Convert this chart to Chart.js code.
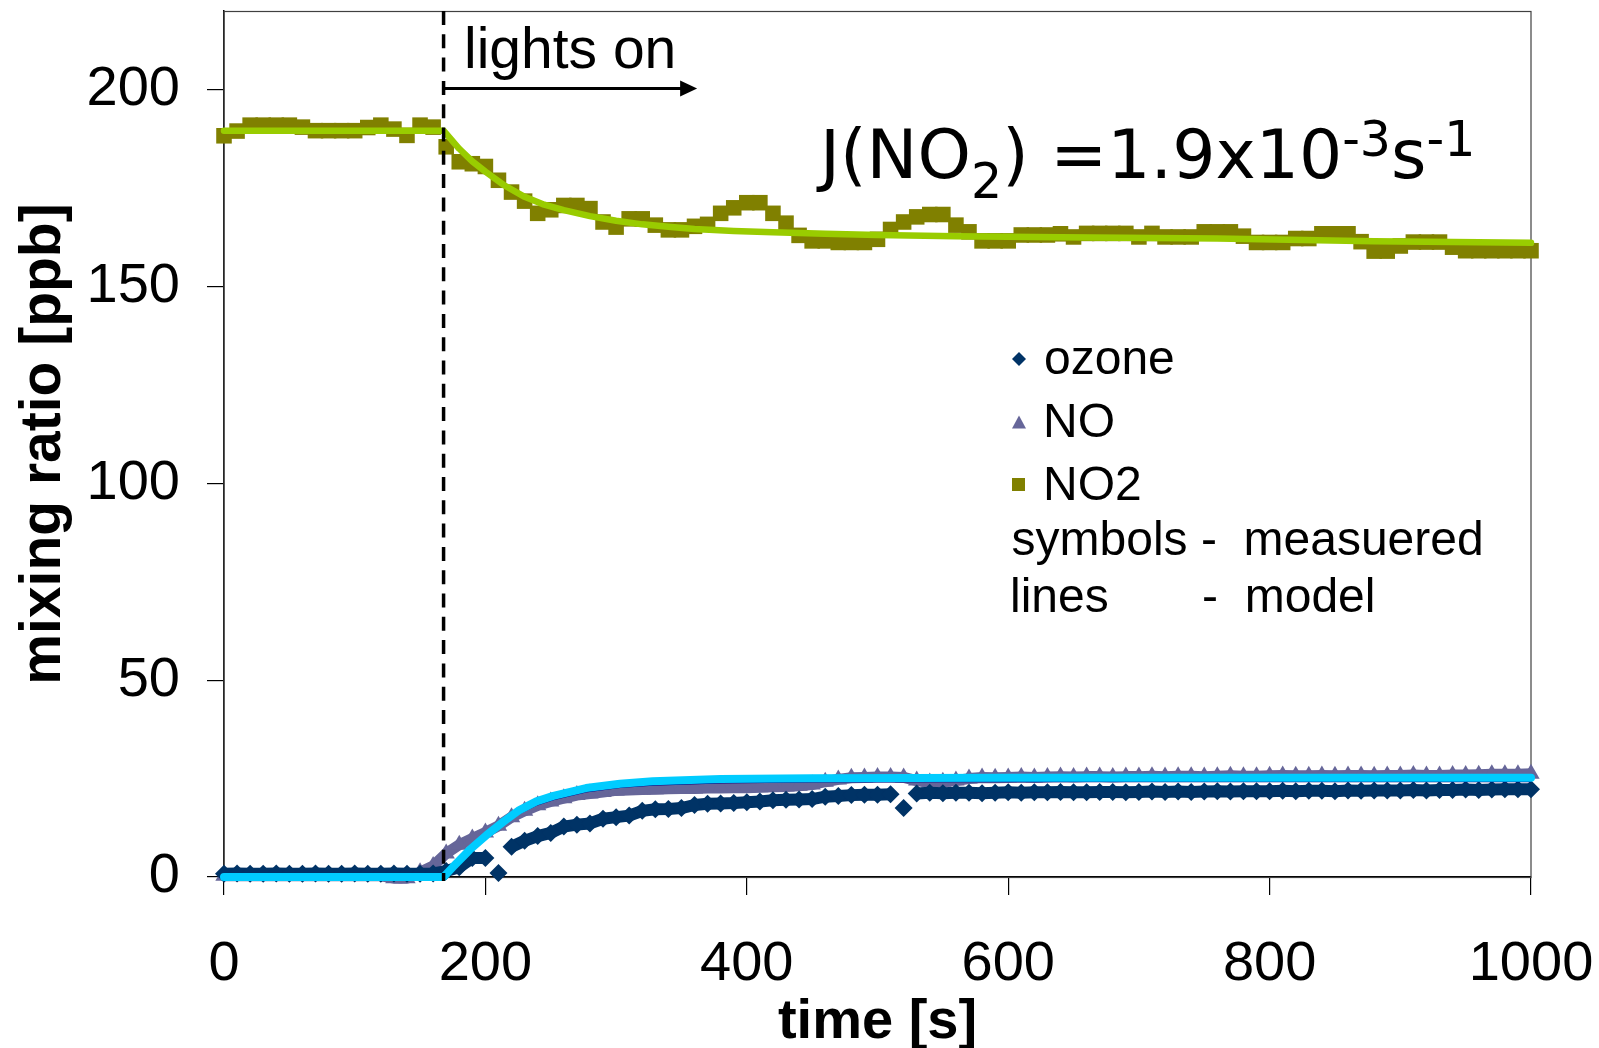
<!DOCTYPE html>
<html><head><meta charset="utf-8">
<script src="https://cdn.jsdelivr.net/npm/chart.js@4.4.1/dist/chart.umd.min.js"></script>
<style>html,body{margin:0;padding:0;background:#fff;}#wrap{width:1599px;height:1048px;}</style>
</head><body><div id="wrap"><canvas id="c" width="1599" height="1048"></canvas></div>
<script>
// ---- data ----
const measTimes = [
  0,10,20,30,40,50,60,70,80,90,
  100,110,120,130,140,150,160,170,180,190,
  200,210,220,230,240,250,260,270,280,290,
  300,310,320,330,340,350,360,370,380,390,
  400,410,420,430,440,450,460,470,480,490,
  500,510,520,530,540,550,560,570,580,590,
  600,610,620,630,640,650,660,670,680,690,
  700,710,720,730,740,750,760,770,780,790,
  800,810,820,830,840,850,860,870,880,890,
  900,910,920,930,940,950,960,970,980,990,
  1000];
const ozoneMeas = [
  0.8,0.9,0.8,0.8,0.9,0.8,0.8,0.9,0.8,0.8,
  0.9,0.8,0.8,0.9,0.8,0.8,0.9,1.5,2.5,4.8,
  4.8,1.0,7.7,9.2,10.4,11.2,12.8,13.3,13.6,14.8,
  15.2,15.6,16.8,17.2,17.3,17.5,18.3,18.6,18.7,18.8,
  19.0,19.2,19.5,19.6,19.7,19.8,20.4,20.6,20.8,20.9,
  20.9,21.0,17.5,21.2,21.4,21.3,21.4,21.4,21.3,21.4,
  21.5,21.4,21.5,21.5,21.6,21.5,21.5,21.6,21.6,21.5,
  21.6,21.7,21.6,21.7,21.6,21.7,21.8,21.7,21.8,21.8,
  21.8,21.9,21.8,21.9,21.9,21.8,22.0,21.9,22.0,22.0,
  22.0,22.1,22.0,22.1,22.1,22.2,22.1,22.2,22.3,22.3,
  22.3];
const noMeas = [
  0.3,0.3,0.3,0.3,0.3,0.3,0.3,0.3,0.3,0.3,
  0.3,0.3,0.3,-0.3,-0.3,1.2,2.8,6.0,8.2,9.8,
  11.3,13.0,15.2,16.8,18.2,19.2,20.0,20.8,21.2,21.6,
  22.0,22.1,22.2,22.3,22.4,22.5,22.5,22.6,22.6,22.7,
  22.7,22.8,22.9,23.0,23.2,23.5,24.2,24.8,25.2,25.3,
  25.4,25.4,25.3,24.5,24.0,24.2,24.5,25.0,25.3,25.2,
  25.3,25.4,25.3,25.4,25.5,25.4,25.5,25.5,25.4,25.5,
  25.5,25.6,25.5,25.6,25.6,25.5,25.6,25.7,25.6,25.6,
  25.7,25.8,25.7,25.7,25.8,25.7,25.8,25.8,25.7,25.8,
  25.8,25.9,25.8,25.8,25.9,25.9,26.0,26.1,26.1,26.1,
  26.2];
const no2Meas = [
  188.3,189.5,191.0,191.0,191.0,191.0,190.5,189.6,189.6,189.6,
  189.6,190.4,191.0,190.0,188.4,191.0,190.5,185.5,181.7,181.2,
  180.5,177.0,174.0,171.7,168.6,169.5,170.6,170.6,169.8,166.4,
  165.1,167.2,167.2,165.6,164.4,164.4,165.3,165.8,168.6,170.0,
  171.3,171.3,168.6,166.1,163.0,161.6,161.6,161.2,161.2,161.2,
  162.0,164.5,166.4,167.7,168.3,168.3,165.6,163.9,161.6,161.6,
  161.6,163.1,163.1,163.1,163.4,162.6,163.5,163.5,163.5,163.5,
  162.6,163.5,162.6,162.6,162.6,163.9,163.9,163.9,162.8,161.2,
  161.2,161.2,162.2,162.2,163.4,163.4,163.4,161.4,159.0,159.0,
  160.3,161.3,161.3,161.3,160.0,159.1,159.1,159.1,159.1,159.1,
  159.1];
const no2ModelTimes = [0,168,180,190,200,215,230,245,260,280,300,320,340,360,390,420,460,500,560,640,760,880,1000];
const no2Model      = [189.6,189.6,185.0,181.8,179.2,175.6,172.8,170.8,169.4,167.9,166.7,165.8,165.2,164.6,164.1,163.8,163.4,163.1,162.8,162.5,162.2,161.5,161.1];
const noModelTimes  = [0,168,175,188,201,214,226,239,252,277,303,328,380,450,600,800,1000];
const noModel       = [0,0,2.5,6.9,10.7,14.1,17.0,19.2,20.6,22.6,23.7,24.3,24.9,25.1,25.2,25.2,25.2];
const ozoneModel    = [0,0,2.3,6.5,10.2,13.5,16.3,18.4,19.8,21.8,22.9,23.5,24.1,24.3,24.4,24.4,24.4];
const xTicks = [0,200,400,600,800,1000];
const yTicks = [0,50,100,150,200];
const lightsOnTime = 168;
const arrowEndTime = 362;
const arrowLevel = 200.3;

// ---- styling ----
const SANS = '"Liberation Sans", Arial, sans-serif';
const VER = '"DejaVu Sans", Verdana, sans-serif';
const C = {ozone:'#003366', no:'#666699', no2:'#808000', no2Line:'#99CC00', noLine:'#00CCFF', o3Line:'#000080'};

const pts = (xs, ys) => xs.map((t, i) => ({x: t, y: ys[i]}));
function isOutlier(arr, i) {
  if (i <= 0 || i >= arr.length - 1) return false;
  const d1 = arr[i] - arr[i-1], d2 = arr[i] - arr[i+1];
  return Math.abs(d1) > 2.5 && Math.abs(d2) > 2.5 && Math.sign(d1) === Math.sign(d2);
}

const annot = {
  id: 'annot',
  beforeDatasetsDraw(chart) {
    const {ctx, chartArea: a} = chart;
    ctx.save();
    ctx.strokeStyle = '#404040'; ctx.lineWidth = 1.2;
    ctx.strokeRect(a.left, a.top + 0.5, a.right - a.left, a.bottom - a.top);
    ctx.restore();
  },
  afterDatasetsDraw(chart) {
    const {ctx, chartArea: a, scales: {x, y}} = chart;
    ctx.save();
    const xl = x.getPixelForValue(lightsOnTime);
    ctx.strokeStyle = '#000'; ctx.lineWidth = 3.5; ctx.setLineDash([14, 9.3]);
    ctx.beginPath(); ctx.moveTo(xl, a.top); ctx.lineTo(xl, a.bottom + 4); ctx.stroke();
    ctx.setLineDash([]);
    const ay = y.getPixelForValue(arrowLevel), ax2 = x.getPixelForValue(arrowEndTime);
    ctx.lineWidth = 3;
    ctx.beginPath(); ctx.moveTo(xl, ay); ctx.lineTo(ax2 - 12, ay); ctx.stroke();
    ctx.fillStyle = '#000';
    ctx.beginPath(); ctx.moveTo(ax2, ay); ctx.lineTo(ax2 - 17, ay - 8); ctx.lineTo(ax2 - 17, ay + 8); ctx.closePath(); ctx.fill();
    ctx.restore();
  },
  afterDraw(chart) {
    const {ctx} = chart;
    ctx.save();
    ctx.fillStyle = '#000';
    ctx.textAlign = 'left'; ctx.textBaseline = 'alphabetic';
    ctx.font = '57px ' + SANS;
    ctx.fillText('lights on', 464, 68);
    // J(NO2) = 1.9x10^-3 s^-1
    const parts = [
      {t: 'J(NO', s: 68, dy: 0}, {t: '2', s: 49, dy: 20},
      {t: ') =1.9x10', s: 68, dy: 0}, {t: '-3', s: 49, dy: -22},
      {t: 's', s: 68, dy: 0}, {t: '-1', s: 49, dy: -22}];
    let px = 820;
    for (const p of parts) {
      ctx.font = p.s + 'px ' + VER;
      ctx.fillText(p.t, px, 178 + p.dy);
      px += ctx.measureText(p.t).width;
    }
    // legend
    ctx.font = '48px ' + SANS;
    ctx.fillStyle = C.ozone;
    ctx.beginPath(); ctx.moveTo(1019, 352); ctx.lineTo(1026, 359); ctx.lineTo(1019, 366); ctx.lineTo(1012, 359); ctx.closePath(); ctx.fill();
    ctx.fillStyle = C.no;
    ctx.beginPath(); ctx.moveTo(1019, 415.5); ctx.lineTo(1026, 428.5); ctx.lineTo(1012, 428.5); ctx.closePath(); ctx.fill();
    ctx.fillStyle = C.no2;
    ctx.fillRect(1012, 478, 13, 13);
    ctx.fillStyle = '#000';
    ctx.fillText('ozone', 1044, 374);
    ctx.fillText('NO', 1043, 437);
    ctx.fillText('NO2', 1043, 500);
    ctx.fillText('symbols -  measuered', 1011.5, 555);
    ctx.fillText('lines       -  model', 1010, 612);
    ctx.restore();
  }
};

new Chart(document.getElementById('c'), {
  type: 'scatter',
  data: {
    datasets: [
      {label: 'NO2', data: pts(measTimes, no2Meas), showLine: false, pointStyle: 'rect', pointRadius: 11,
       backgroundColor: C.no2, borderColor: C.no2, pointBorderWidth: 0, order: 6, clip: false},
      {label: 'NO2 model', data: pts(no2ModelTimes, no2Model), showLine: true, pointRadius: 0, borderColor: C.no2Line,
       borderWidth: 6.5, tension: 0, borderJoinStyle: 'round', borderCapStyle: 'round', order: 5, clip: false},
      {label: 'NO', data: pts(measTimes, noMeas), showLine: true, borderColor: C.no, borderWidth: 11, tension: 0,
       borderJoinStyle: 'round', pointStyle: 'triangle', pointRadius: 10, backgroundColor: C.no, pointBorderWidth: 0, order: 4, clip: false},
      {label: 'ozone', data: pts(measTimes, ozoneMeas), showLine: true, borderColor: C.ozone, borderWidth: 12, tension: 0,
       borderJoinStyle: 'round',
       segment: {borderColor: c => (isOutlier(ozoneMeas, c.p0DataIndex) || isOutlier(ozoneMeas, c.p1DataIndex)) ? 'rgba(0,0,0,0)' : undefined},
       pointStyle: 'rectRot', pointRadius: 9, backgroundColor: C.ozone, pointBorderWidth: 0, order: 3, clip: false},
      {label: 'ozone model', data: pts(noModelTimes, ozoneModel), showLine: true, pointRadius: 0, borderColor: C.o3Line,
       borderWidth: 2.5, tension: 0, order: 2, clip: false},
      {label: 'NO model', data: pts(noModelTimes, noModel), showLine: true, pointRadius: 0, borderColor: C.noLine,
       borderWidth: 8, tension: 0, borderJoinStyle: 'round', borderCapStyle: 'round', order: 1, clip: false}
    ]
  },
  options: {
    responsive: false, animation: false, devicePixelRatio: 1,
    layout: {padding: {top: 11, right: 68, left: 0, bottom: 0}},
    plugins: {legend: {display: false}, tooltip: {enabled: false}},
    scales: {
      x: {
        type: 'linear', min: 0, max: 1000,
        afterBuildTicks: s => { s.ticks = xTicks.map(v => ({value: v})); },
        afterFit: s => { s.height = 171; s.paddingLeft = 0; s.paddingRight = 0; },
        ticks: {font: {family: SANS, size: 56}, color: '#000', padding: 36, maxRotation: 0, autoSkip: false,
                callback: v => String(v)},
        grid: {drawOnChartArea: false, drawTicks: true, tickLength: 18, color: '#000', lineWidth: 1.2},
        border: {display: true, color: '#000', width: 2},
        title: {display: true, text: 'time [s]', color: '#000',
                font: {family: SANS, size: 56, weight: 'bold', lineHeight: 0.9}, padding: {top: 0, bottom: 0}}
      },
      y: {
        type: 'linear', min: 0, max: 220,
        afterBuildTicks: s => { s.ticks = yTicks.map(v => ({value: v})); },
        afterFit: s => { s.width = 224; s.paddingTop = 0; s.paddingBottom = 0; },
        ticks: {font: {family: SANS, size: 56, lineHeight: 1}, color: '#000', padding: 27, callback: v => String(v)},
        grid: {drawOnChartArea: false, drawTicks: true, tickLength: 17, color: '#000', lineWidth: 1.2},
        border: {display: true, color: '#000', width: 1.5},
        title: {display: true, text: 'mixing ratio [ppb]', color: '#000',
                font: {family: SANS, size: 57, weight: 'bold', lineHeight: 1}, padding: {top: 16, bottom: 0}}
      }
    }
  },
  plugins: [annot]
});
</script>
</body></html>
